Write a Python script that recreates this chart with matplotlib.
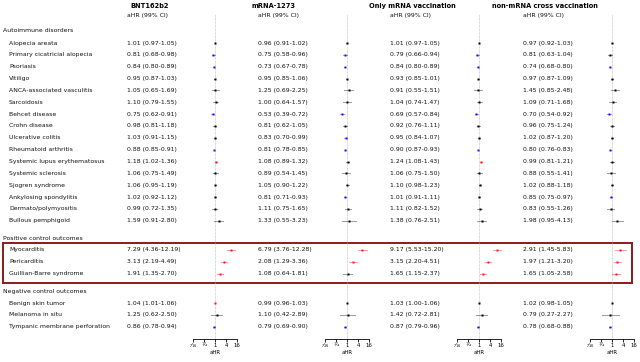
import matplotlib

matplotlib.use("Agg")
import matplotlib.patches as patches
import matplotlib.pyplot as plt

# outcome labels, grouped by section
autoimmune = ["Alopecia areata", "Primary cicatricial alopecia", "Psoriasis", "Vitiligo",
              "ANCA-associated vasculitis", "Sarcoidosis", "Behcet disease", "Crohn disease",
              "Ulcerative colitis", "Rheumatoid arthritis", "Systemic lupus erythematosus",
              "Systemic sclerosis", "Sjogren syndrome", "Ankylosing spondylitis",
              "Dermato/polymyositis", "Bullous pemphigoid"]
positive = ["Myocarditis", "Pericarditis", "Guillian-Barre syndrome"]
negative = ["Benign skin tumor", "Melanoma in situ", "Tympanic membrane perforation"]
section_names = ["Autoimmune disorders", "Positive control outcomes", "Negative control outcomes"]

cohorts = ["BNT162b2", "mRNA-1273", "Only mRNA vaccination", "non-mRNA cross vaccination"]

# aHR and 99% CI, rows in the same order as the labels above
bnt_hr = [1.01, 0.81, 0.84, 0.95, 1.05, 1.10, 0.75, 0.98, 1.03, 0.88, 1.18, 1.06, 1.06, 1.02, 0.99, 1.59,
          7.29, 3.13, 1.91, 1.04, 1.25, 0.86]
bnt_lo = [0.97, 0.68, 0.80, 0.87, 0.65, 0.79, 0.62, 0.81, 0.91, 0.85, 1.02, 0.75, 0.95, 0.92, 0.72, 0.91,
          4.36, 2.19, 1.35, 1.01, 0.62, 0.78]
bnt_hi = [1.05, 0.98, 0.89, 1.03, 1.69, 1.55, 0.91, 1.18, 1.15, 0.91, 1.36, 1.49, 1.19, 1.12, 1.35, 2.80,
          12.19, 4.49, 2.70, 1.06, 2.50, 0.94]

mod_hr = [0.96, 0.75, 0.73, 0.95, 1.25, 1.00, 0.53, 0.81, 0.83, 0.81, 1.08, 0.89, 1.05, 0.81, 1.11, 1.33,
          6.79, 2.08, 1.08, 0.99, 1.10, 0.79]
mod_lo = [0.91, 0.58, 0.67, 0.85, 0.69, 0.64, 0.39, 0.62, 0.70, 0.78, 0.89, 0.54, 0.90, 0.71, 0.75, 0.55,
          3.76, 1.29, 0.64, 0.96, 0.42, 0.69]
mod_hi = [1.02, 0.96, 0.78, 1.06, 2.25, 1.57, 0.72, 1.05, 0.99, 0.85, 1.32, 1.45, 1.22, 0.93, 1.65, 3.23,
          12.28, 3.36, 1.81, 1.03, 2.89, 0.90]

only_hr = [1.01, 0.79, 0.84, 0.93, 0.91, 1.04, 0.69, 0.92, 0.95, 0.90, 1.24, 1.06, 1.10, 1.01, 1.11, 1.38,
           9.17, 3.15, 1.65, 1.03, 1.42, 0.87]
only_lo = [0.97, 0.66, 0.80, 0.85, 0.55, 0.74, 0.57, 0.76, 0.84, 0.87, 1.08, 0.75, 0.98, 0.91, 0.82, 0.76,
           5.53, 2.20, 1.15, 1.00, 0.72, 0.79]
only_hi = [1.05, 0.94, 0.89, 1.01, 1.51, 1.47, 0.84, 1.11, 1.07, 0.93, 1.43, 1.50, 1.23, 1.11, 1.52, 2.51,
           15.20, 4.51, 2.37, 1.06, 2.81, 0.96]

cross_hr = [0.97, 0.81, 0.74, 0.97, 1.45, 1.09, 0.70, 0.96, 1.02, 0.80, 0.99, 0.88, 1.02, 0.85, 0.83, 1.98,
            2.91, 1.97, 1.65, 1.02, 0.79, 0.78]
cross_lo = [0.92, 0.63, 0.68, 0.87, 0.85, 0.71, 0.54, 0.75, 0.87, 0.76, 0.81, 0.55, 0.88, 0.75, 0.55, 0.95,
            1.45, 1.21, 1.05, 0.98, 0.27, 0.68]
cross_hi = [1.03, 1.04, 0.80, 1.09, 2.48, 1.68, 0.92, 1.24, 1.20, 0.83, 1.21, 1.41, 1.18, 0.97, 1.26, 4.13,
            5.83, 3.20, 2.58, 1.05, 2.27, 0.88]

ticks = [1 / 16, 1 / 4, 1, 4, 16]
tick_labels = ["\u00b9\u2044\u2081\u2086", "\u00bc", "1", "4", "16"]


def main():
    W, H = 640, 362
    fs = 4.4
    fig = plt.figure(figsize=(W / 100, H / 100), dpi=100)

    # background axes in pixel units for all the text
    tax = fig.add_axes([0, 0, 1, 1])
    tax.set_xlim(0, W)
    tax.set_ylim(H, 0)
    tax.axis("off")

    # row positions (pixels from top)
    sec_y = [31, 238, 291]
    step = 11.85
    row_y = []
    labels = []
    for sy, items in zip(sec_y, [autoimmune, positive, negative]):
        for k, name in enumerate(items):
            row_y.append(sy + 12 + k * step)
            labels.append(name)

    for sy, name in zip(sec_y, section_names):
        tax.text(3, sy, name, fontsize=fs, va="center", ha="left", color="#111111")
    for y, name in zip(row_y, labels):
        tax.text(9, y, name, fontsize=fs, va="center", ha="left", color="#111111")

    data = [(bnt_hr, bnt_lo, bnt_hi), (mod_hr, mod_lo, mod_hi),
            (only_hr, only_lo, only_hi), (cross_hr, cross_lo, cross_hi)]
    text_x = [127, 258, 390, 523]
    head_x = [150, 274, 412, 545]
    plot_x = [193, 325, 457, 590]
    plot_w = 44
    y_top, y_axis = 14, 339

    for c in range(4):
        hr, lo, hi = data[c]
        tax.text(head_x[c], 6, cohorts[c], fontsize=4.8, fontweight="bold", ha="center", va="center")
        tax.text(text_x[c], 16, "aHR (99% CI)", fontsize=fs, ha="left", va="center", color="#111111")
        for y, h, l, u in zip(row_y, hr, lo, hi):
            tax.text(text_x[c], y, "%.2f (%.2f-%.2f)" % (h, l, u), fontsize=fs, ha="left", va="center",
                     color="#111111")

        ax = fig.add_axes([plot_x[c] / W, (H - y_axis) / H, plot_w / W, (y_axis - y_top) / H])
        ax.patch.set_alpha(0)
        ax.set_xscale("log", base=2)
        ax.set_xlim(1 / 16, 16)
        ax.set_ylim(y_axis, y_top)
        for s in ["top", "left", "right"]:
            ax.spines[s].set_visible(False)
        ax.spines["bottom"].set_linewidth(0.6)
        ax.set_yticks([])
        ax.set_xticks(ticks)
        ax.set_xticklabels(tick_labels, fontsize=3.9)
        ax.xaxis.set_minor_locator(matplotlib.ticker.NullLocator())
        ax.tick_params(axis="x", length=2, width=0.6, pad=1)
        ax.set_xlabel("aHR", fontsize=3.9, labelpad=1.5)
        ax.axvline(1, color="#b0b0b0", lw=0.5, ls=(0, (1, 1)))

        for y, h, l, u in zip(row_y, hr, lo, hi):
            if u < 1:
                col = "#1010ff"
            elif l > 1:
                col = "#ff1010"
            else:
                col = "black"
            ax.plot([l, u], [y, y], color=col, alpha=0.4, lw=0.7, clip_on=False)
            ax.plot([h], [y], marker="s", ms=2.1, color=col, mec="none", clip_on=False)

    # highlight box round the positive control outcomes
    box = patches.Rectangle((3, 243), 629, 40, fill=False, edgecolor="#8b1a1a", lw=1.4)
    tax.add_patch(box)

    fig.savefig("out.png", dpi=100)


if __name__ == "__main__":
    main()
